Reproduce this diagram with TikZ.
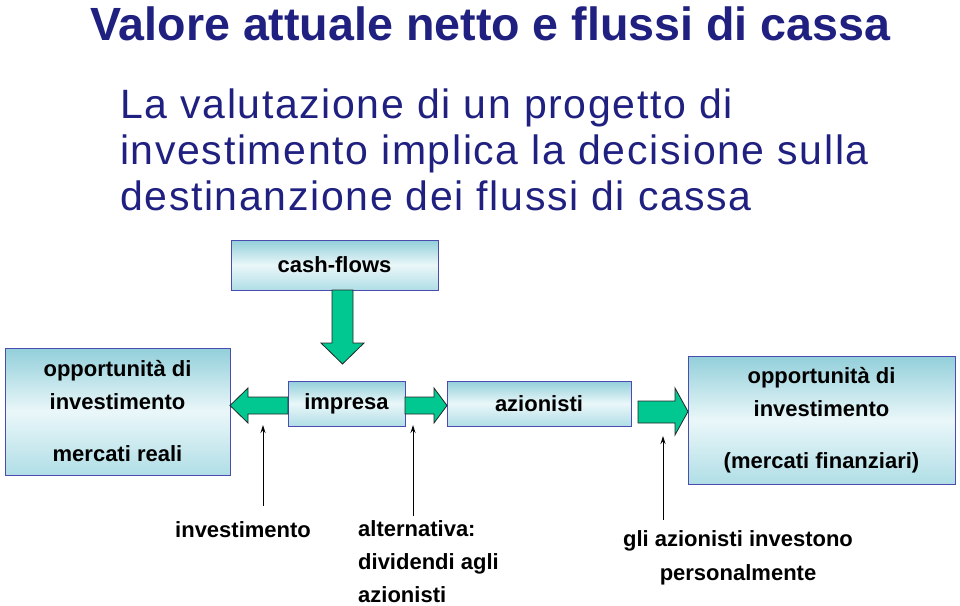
\documentclass[tikz,border=0pt]{standalone}
\usepackage{fontspec}
\setmainfont{Liberation Sans}
\newfontfamily\subfont[LetterSpace=4]{Liberation Sans}
\usetikzlibrary{calc,arrows.meta}
\definecolor{navy}{HTML}{1F2080}
\definecolor{boxline}{HTML}{4B4BB0}
\definecolor{arrowgreen}{HTML}{00C890}
\definecolor{boxtop}{HTML}{92CFDA}
\definecolor{boxmid}{HTML}{EAF7F9}
\definecolor{boxbot}{HTML}{B0DEE6}
\newcommand\decofont{\fontsize{22}{33}\selectfont\bfseries}
\tikzset{
  box/.style={draw=boxline, line width=1pt, top color=boxtop, bottom color=boxbot, middle color=boxmid,
    inner sep=0pt, align=center, font=\decofont},
  fat/.style={draw=black!85, line width=0.8pt, fill=arrowgreen},
  thin/.style={line width=1pt, -{Stealth[length=8pt,width=5pt]}},
  deco/.style={inner sep=0pt, font=\decofont},
  titletext/.style={inner sep=0pt, anchor=base west, text=navy},
}
\begin{document}
\begin{tikzpicture}[x=1pt,y=-1pt]
\useasboundingbox (0,0) rectangle (960,605);
\fill[white] (0,0) rectangle (960,605);

% title and subtitle
\node[titletext, font=\fontsize{46.6}{50}\selectfont\bfseries] (title) at (90,40) {Valore attuale netto e flussi di cassa};
\node[titletext, font=\fontsize{41}{46}\subfont] (sub1) at (120,118) {La valutazione di un progetto di};
\node[titletext, font=\fontsize{41}{46}\subfont] (sub2) at (120,164) {investimento implica la decisione sulla};
\node[titletext, font=\fontsize{41}{46}\subfont] (sub3) at (120,210) {destinanzione dei flussi di cassa};

% boxes
\node[box, minimum width=207pt, minimum height=50pt] (cf) at (334.5,265) {cash-flows};
\node[box, minimum width=225pt, minimum height=127pt] (lb) at (117.5,411.5)
  {opportunità di\\investimento\\[19pt]mercati reali};
\node[box, minimum width=117pt, minimum height=45pt] (imp) at (346.5,403.5) {impresa};
\node[box, minimum width=184pt, minimum height=45pt] (az) at (539,403.5) {azionisti};
\node[box, minimum width=267pt, minimum height=128pt] (rb) at (821.5,420)
  {opportunità di\\investimento\\[19pt](mercati finanziari)};

% fat arrows
\draw[fat] (332,290) -- (353,290) -- (353,343) -- (364,343) -- (342.5,364) -- (321,343) -- (332,343) -- cycle;
\draw[fat] (288,397) -- (248,397) -- (248,388) -- (230,405.5) -- (248,423) -- (248,414) -- (288,414) -- cycle;
\draw[fat] (405,397) -- (434,397) -- (434,388) -- (447,405.5) -- (434,423) -- (434,414) -- (405,414) -- cycle;
\draw[fat] (638,401) -- (675,401) -- (675,388) -- (688,411.5) -- (675,435) -- (675,423) -- (638,423) -- cycle;

% bottom texts (base anchor = baseline of last line)
\node[deco, anchor=base west] (inv) at (175,537) {investimento};
\node[deco, anchor=base west, align=left, font=\fontsize{22}{33}\selectfont\bfseries] (alt) at (358,602)
  {alternativa:\\dividendi agli\\azionisti};
\node[deco, anchor=base, align=center, font=\fontsize{22}{34}\selectfont\bfseries] (gli) at (738,580)
  {gli azionisti investono\\personalmente};

% thin arrows
\coordinate (b1) at (263,506);
\coordinate (t1) at (263,425);
\coordinate (b2) at (413,516);
\coordinate (t2) at (413,425);
\coordinate (b3) at (663,520);
\coordinate (t3) at (663,436);
\draw[thin] (b1) -- (t1);
\draw[thin] (b2) -- (t2);
\draw[thin] (b3) -- (t3);
\end{tikzpicture}
\end{document}
